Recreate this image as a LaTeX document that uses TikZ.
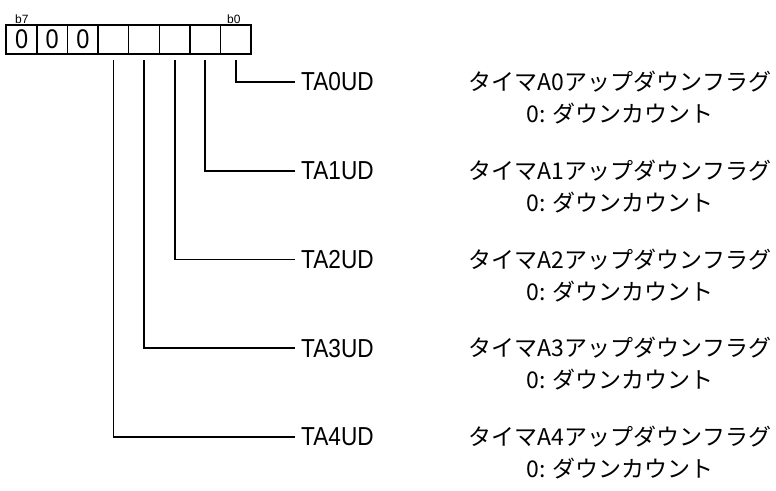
\documentclass[tikz,border=0pt]{standalone}
\usepackage{fontspec}
\setmainfont{Liberation Sans}
\newfontfamily\narrowfont[FakeStretch=0.87]{Liberation Sans}
\newfontfamily\jpfont{Noto Sans CJK JP}
\usetikzlibrary{calc}
\begin{document}
\begin{tikzpicture}[x=1pt,y=-1pt,
  cell/.style={draw,line width=1.3pt,minimum width=30.6pt,minimum height=29pt,inner sep=0pt,outer sep=0pt,font=\narrowfont\fontsize{27}{27}\selectfont},
  bitlbl/.style={font=\fontsize{12}{12}\selectfont,inner sep=0pt,anchor=base west},
  fld/.style={font=\narrowfont\fontsize{26}{26}\selectfont,inner sep=0pt,anchor=west},
  desc/.style={font=\jpfont\fontsize{23}{32}\selectfont,inner sep=0pt,align=center,anchor=north},
  conn/.style={line width=1.8pt}]
\useasboundingbox (0,0) rectangle (776,490);
% register cells (bit 7 .. bit 0)
\node[cell] (c7) at (21.6,39.5) {0};
\node[cell] (c6) at (52.2,39.5) {0};
\node[cell] (c5) at (82.8,39.5) {0};
\node[cell] (c4) at (113.4,39.5) {};
\node[cell] (c3) at (144.0,39.5) {};
\node[cell] (c2) at (174.6,39.5) {};
\node[cell] (c1) at (205.2,39.5) {};
\node[cell] (c0) at (235.8,39.5) {};
\draw[line width=2pt] (c7.north west) rectangle (c0.south east);
\node[bitlbl] (b7) at (15,23) {b7};
\node[bitlbl] (b0) at (227,23) {b0};
% field names
\node[fld] (t0) at (301,82) {TA0UD};
\node[fld] (t1) at (301,170.75) {TA1UD};
\node[fld] (t2) at (301,259.5) {TA2UD};
\node[fld] (t3) at (301,348.25) {TA3UD};
\node[fld] (t4) at (301,437) {TA4UD};
% descriptions
\node[desc] (d0) at (620,71) {タイマA0アップダウンフラグ\\0: ダウンカウント};
\node[desc] (d1) at (620,159.75) {タイマA1アップダウンフラグ\\0: ダウンカウント};
\node[desc] (d2) at (620,248.5) {タイマA2アップダウンフラグ\\0: ダウンカウント};
\node[desc] (d3) at (620,337.25) {タイマA3アップダウンフラグ\\0: ダウンカウント};
\node[desc] (d4) at (620,426) {タイマA4アップダウンフラグ\\0: ダウンカウント};
% connectors
\draw[conn] ($(c0.south)+(0,6)$) |- ([xshift=-6pt]t0.west);
\draw[conn] ($(c1.south)+(0,6)$) |- ([xshift=-6pt]t1.west);
\draw[conn] ($(c2.south)+(0,6)$) |- ([xshift=-6pt]t2.west);
\draw[conn] ($(c3.south)+(0,6)$) |- ([xshift=-6pt]t3.west);
\draw[conn] ($(c4.south)+(0,6)$) |- ([xshift=-6pt]t4.west);
\end{tikzpicture}
\end{document}
